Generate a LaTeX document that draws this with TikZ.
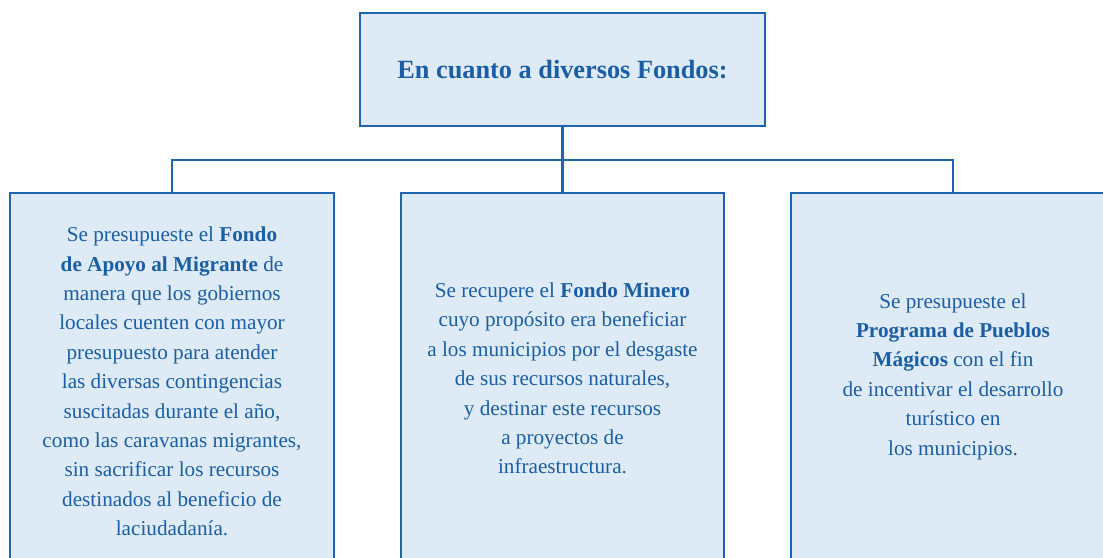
\documentclass[tikz,border=0pt]{standalone}
\usepackage{fontspec}
\setmainfont{Liberation Serif}
\definecolor{boxline}{HTML}{1F64AE}
\definecolor{boxfill}{HTML}{DEEAF6}
\definecolor{txt}{HTML}{1A5EA6}
\begin{document}
\begin{tikzpicture}[x=1pt,y=-1pt,
  box/.style={draw=boxline, fill=boxfill, line width=2.5pt, inner sep=0pt, text=txt, align=center},
  conn/.style={draw=boxline, line width=2.2pt},
  body/.style={font=\fontsize{21.2}{29.4}\selectfont}]
\useasboundingbox (0,0) rectangle (1103,557);
\clip (0,0) rectangle (1103,557);
\node[box, minimum width=405pt, minimum height=113pt, font=\fontsize{26.3}{30}\selectfont\bfseries] (top) at (562.5,69.5) {En cuanto a diversos Fondos:};
\node[box, body, minimum width=324pt, minimum height=377pt] (left) at (172,381.5) {Se presupueste el \textbf{Fondo}\\ \textbf{de Apoyo al Migrante} de\\ manera que los gobiernos\\ locales cuenten con mayor\\ presupuesto para atender\\ las diversas contingencias\\ suscitadas durante el año,\\ como las caravanas migrantes,\\ sin sacrificar los recursos\\ destinados al beneficio de\\ laciudadanía.};
\node[box, body, minimum width=323pt, minimum height=377pt] (mid) at (562.5,381.5) {};
\node[body, text=txt, align=center] (midt) at (562.5,378.5) {Se recupere el \textbf{Fondo Minero}\\ cuyo propósito era beneficiar\\ a los municipios por el desgaste\\ de sus recursos naturales,\\ y destinar este recursos\\ a proyectos de\\ infraestructura.};
\node[box, body, minimum width=324pt, minimum height=377pt] (right) at (953,381.5) {};
\node[body, text=txt, align=center] (rightt) at (953,376.5) {Se presupueste el\\ \textbf{Programa de Pueblos}\\ \textbf{Mágicos} con el fin\\ de incentivar el desarrollo\\ turístico en\\ los municipios.};
\coordinate (bar) at (562.5,160);
\draw[conn] (top.south) -- (mid.north);
\draw[conn] (left.north) |- (bar) -| (right.north);
\end{tikzpicture}
\end{document}
